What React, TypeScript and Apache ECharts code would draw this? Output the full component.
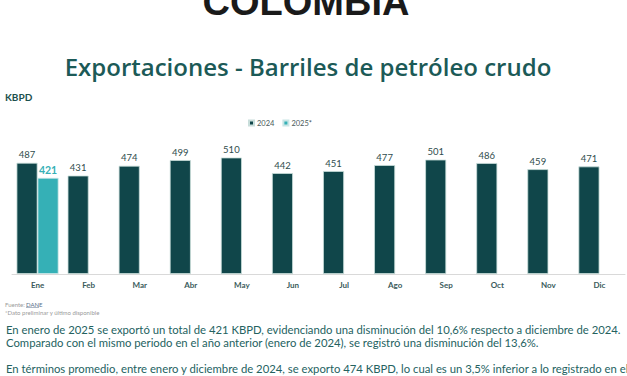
import React, { useEffect, useRef } from "react";
import * as echarts from "echarts";

const months = ["Ene", "Feb", "Mar", "Abr", "May", "Jun", "Jul", "Ago", "Sep", "Oct", "Nov", "Dic"];
const values2024 = [487, 431, 474, 499, 510, 442, 451, 477, 501, 486, 459, 471];
const values2025: (number | null)[] = [421, null, null, null, null, null, null, null, null, null, null, null];
const seriesNames = ["2024", "2025*"];

const bigTitle = "COLOMBIA";
const chartTitle = "Exportaciones - Barriles de petróleo crudo";
const unitLabel = "KBPD";
const sourceLabel = "Fuente: ";
const sourceLink = "DANE";
const noteLabel = "*Dato preliminar y último disponible";
const paragraph = [
  "En enero de 2025 se exportó un total de 421 KBPD, evidenciando una disminución del 10,6% respecto a diciembre de 2024.",
  "Comparado con el mismo periodo en el año anterior (enero de 2024), se registró una disminución del 13,6%.",
  "En términos promedio, entre enero y diciembre de 2024, se exporto 474 KBPD, lo cual es un 3,5% inferior a lo registrado en el",
];

const DARK = "#10464a";
const LIGHT = "#35b0b6";
const TEXT = "#24625f";

export default function App() {
  const ref = useRef<HTMLDivElement>(null);
  useEffect(() => {
    if (!ref.current) return;
    const chart = echarts.init(ref.current, null, { renderer: "svg" });
    const font = "Lato, 'Open Sans', sans-serif";
    const titleFont = "'Open Sans', sans-serif";
    chart.setOption({
      animation: false,
      backgroundColor: "#ffffff",
      grid: { left: 12, right: 2, top: 137, bottom: 102, containLabel: false },
      legend: {
        top: 114,
        left: 243,
        itemWidth: 5,
        itemHeight: 5,
        itemGap: 8,
        icon: "rect",
        textStyle: { fontSize: 7.5, color: "#4a5a5a", fontFamily: font, padding: [0, 0, 0, -2] },
        data: seriesNames,
      },
      xAxis: {
        type: "category",
        data: months,
        axisLine: { show: true, lineStyle: { color: "#d9d9d9", width: 1 } },
        axisTick: { show: false },
        axisLabel: { fontSize: 8, fontWeight: "bold", color: "#3a5b5b", fontFamily: font, margin: 7 },
      },
      yAxis: { type: "value", min: 0, max: 600, show: false, splitLine: { show: false } },
      series: [
        {
          name: seriesNames[0],
          type: "bar",
          data: values2024,
          barWidth: 21,
          barGap: "0%",
          itemStyle: { color: DARK, borderColor: "#c9dedb", borderWidth: 0.8 },
          label: { show: true, position: "top", distance: 3, fontSize: 9.5, color: "#2f4d4d", fontFamily: font },
        },
        {
          name: seriesNames[1],
          type: "bar",
          data: values2025,
          barWidth: 21,
          barGap: "0%",
          itemStyle: { color: LIGHT, borderColor: "#c9e6e6", borderWidth: 0.8 },
          label: { show: true, position: "top", distance: 2, fontSize: 10.5, fontWeight: "bold", color: LIGHT, fontFamily: font },
        },
      ],
      graphic: [
        {
          type: "text",
          x: 306,
          y: 21,
          style: {
            text: bigTitle,
            fontSize: 38,
            fontWeight: "bold",
            fontFamily: "'Liberation Sans', Arial, sans-serif",
            fill: "#1a1a1a",
            textAlign: "center",
            textVerticalAlign: "bottom",
          },
        },
        {
          type: "text",
          x: 308,
          y: 66,
          style: {
            text: chartTitle,
            fontSize: 24,
            fontWeight: 600,
            fontFamily: titleFont,
            fill: "#1c5a57",
            textAlign: "center",
            textVerticalAlign: "middle",
          },
        },
        {
          type: "text",
          x: 5,
          y: 97,
          style: {
            text: unitLabel,
            fontSize: 10,
            fontWeight: "bold",
            fontFamily: font,
            fill: "#1c4f4d",
            textVerticalAlign: "middle",
          },
        },
        {
          type: "text",
          x: 5,
          y: 304,
          style: { text: sourceLabel, fontSize: 6, fontFamily: font, fill: "#9a9a9a", textVerticalAlign: "middle" },
        },
        {
          type: "text",
          x: 26,
          y: 304,
          style: { text: sourceLink, fontSize: 6, fontFamily: font, fill: "#5a6f8a", textVerticalAlign: "middle" },
        },
        {
          type: "line",
          shape: { x1: 26, y1: 307.5, x2: 39, y2: 307.5 },
          style: { stroke: "#5a6f8a", lineWidth: 0.5 },
        },
        {
          type: "text",
          x: 5,
          y: 312,
          style: { text: noteLabel, fontSize: 6, fontFamily: font, fill: "#9a9a9a", textVerticalAlign: "middle" },
        },
        {
          type: "text",
          x: 6,
          y: 329,
          style: { text: paragraph[0], fontSize: 11.3, fontFamily: font, fill: TEXT, textVerticalAlign: "middle" },
        },
        {
          type: "text",
          x: 6,
          y: 342,
          style: { text: paragraph[1], fontSize: 11.3, fontFamily: font, fill: TEXT, textVerticalAlign: "middle" },
        },
        {
          type: "text",
          x: 6,
          y: 368,
          style: { text: paragraph[2], fontSize: 11.3, fontFamily: font, fill: TEXT, textVerticalAlign: "middle" },
        },
      ],
    });
    return () => chart.dispose();
  }, []);
  return (
    <div
      ref={ref}
      style={{ position: "fixed", left: 0, top: 0, width: 627, height: 376, background: "#fff" }}
    />
  );
}
